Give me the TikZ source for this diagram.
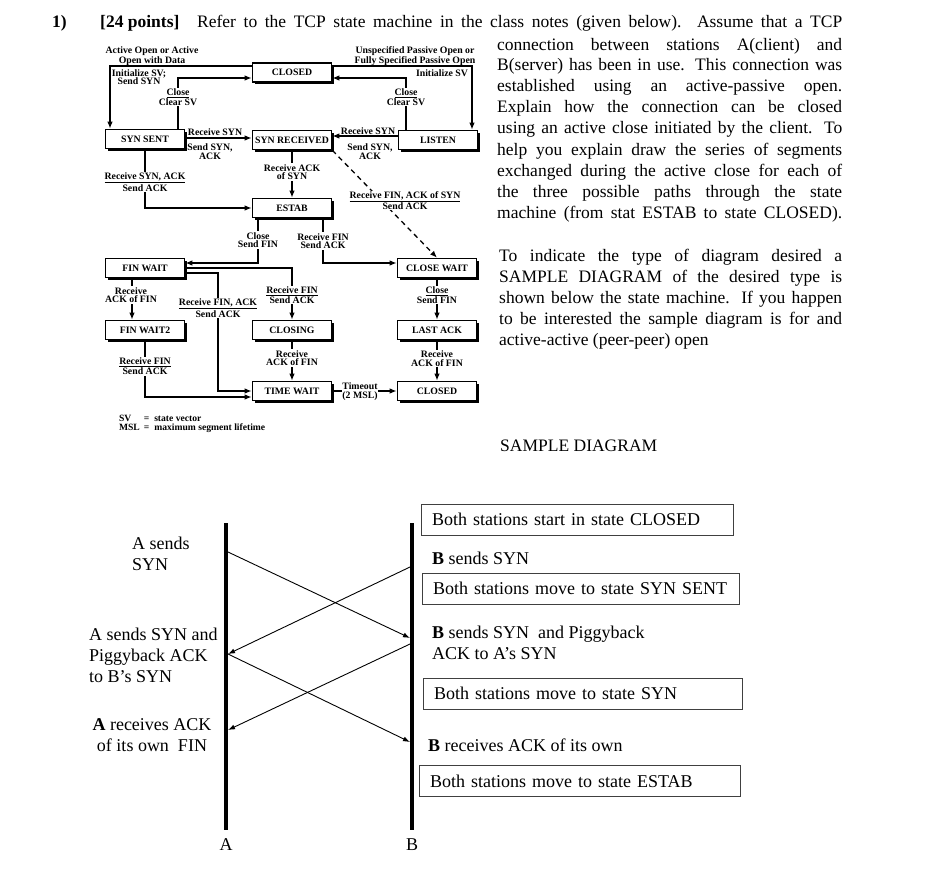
\documentclass[tikz,border=0pt]{standalone}
\usepackage{fontspec}
\setmainfont{Liberation Serif}
\usetikzlibrary{arrows.meta,shadows}
\newcommand\smf{\fontsize{9.8}{8.6}\selectfont\bfseries}
\newcommand\bigf{\fontsize{17.5}{21}\selectfont}
\newcommand\sdf{\fontsize{18}{21}\selectfont}
\begin{document}
\begin{tikzpicture}[x=1pt,y=-1pt,
  st/.style={draw, line width=1.6pt, fill=white, minimum width=79pt, minimum height=19pt, inner sep=0pt, font=\smf,
    drop shadow={shadow xshift=2.4pt, shadow yshift=-2.4pt, opacity=1, fill=black}},
  lb/.style={font=\smf, align=center, inner sep=0.8pt},
  wl/.style={lb, fill=white},
  ln/.style={line width=1.3pt},
  ar/.style={ln, -{Latex[length=7pt,width=5.5pt]}},
  para/.style={anchor=base west, inner sep=0pt, font=\bigf},
  sd/.style={inner sep=0pt, font=\sdf},
  sbox/.style={draw=black!75, line width=0.8pt, minimum height=31pt, inner xsep=11pt, inner ysep=0pt, align=left, font=\sdf},
  sar/.style={line width=0.9pt, -{Latex[length=7pt,width=5pt]}},
  life/.style={line width=4pt}
]
\useasboundingbox (0,0) rectangle (926,880);

% ---------- title and paragraph ----------
\node[para] (t1) at (52,28) {\textbf{1)}};
\node[para] (t2) at (100,28) {\textbf{[24 points]}};
\node[para] (t3) at (197,28) {\makebox[645pt][s]{Refer to the TCP state machine in the class notes (given below). Assume that a TCP}};
\node[para] (p1) at (497,50.5) {\makebox[345pt][s]{connection between stations A(client) and}};
\node[para] (p2) at (497,71) {\makebox[345pt][s]{B(server) has been in use. This connection was}};
\node[para] (p3) at (497,92) {\makebox[345pt][s]{established using an active-passive open.}};
\node[para] (p4) at (497,113) {\makebox[345pt][s]{Explain how the connection can be closed}};
\node[para] (p5) at (497,134) {\makebox[345pt][s]{using an active close initiated by the client. To}};
\node[para] (p6) at (497,155) {\makebox[345pt][s]{help you explain draw the series of segments}};
\node[para] (p7) at (497,176) {\makebox[345pt][s]{exchanged during the active close for each of}};
\node[para] (p8) at (497,197) {\makebox[345pt][s]{the three possible paths through the state}};
\node[para] (p9) at (497,218) {\makebox[345pt][s]{machine (from stat ESTAB to state CLOSED).}};
\node[para] (q1) at (499,261.5) {\makebox[343pt][s]{To indicate the type of diagram desired a}};
\node[para] (q2) at (499,282) {\makebox[343pt][s]{SAMPLE DIAGRAM of the desired type is}};
\node[para] (q3) at (499,303) {\makebox[343pt][s]{shown below the state machine. If you happen}};
\node[para] (q4) at (499,324) {\makebox[343pt][s]{to be interested the sample diagram is for and}};
\node[para] (q5) at (499,345) {active-active (peer-peer) open};
\node[para] (sdh) at (500,451) {SAMPLE DIAGRAM};

% ---------- state boxes ----------
\node[st] (CLOSEDa) at (292,72.5) {CLOSED};
\node[st] (SYNSENT) at (145,139) {SYN SENT};
\node[st] (SYNRCVD) at (292,140) {SYN RECEIVED};
\node[st] (LISTEN) at (438,140) {LISTEN};
\node[st] (ESTAB) at (292,208) {ESTAB};
\node[st] (FINWAIT) at (145,268) {FIN WAIT};
\node[st] (CLOSEWAIT) at (437,268) {CLOSE WAIT};
\node[st] (FINWAITtwo) at (145,330) {FIN WAIT2};
\node[st] (CLOSING) at (292,330) {CLOSING};
\node[st] (LASTACK) at (437,330) {LAST ACK};
\node[st] (TIMEWAIT) at (292,391) {TIME WAIT};
\node[st] (CLOSEDb) at (437,391) {CLOSED};

% ---------- connectors ----------
\draw[ar] (CLOSEDa.west |- 0,66) -| (SYNSENT.north -| 110,0);
\draw[ar] (SYNSENT.north -| 178,0) |- (CLOSEDa.west |- 0,78);
\draw[ar] (CLOSEDa.east |- 0,66) -| (LISTEN.north -| 472,0);
\draw[ar] (LISTEN.north -| 406,0) |- (CLOSEDa.east |- 0,78);
\draw[ar] (SYNSENT.east |- 0,138) -- (SYNRCVD.west |- 0,138);
\draw[ar] (LISTEN.west |- 0,136) -- (SYNRCVD.east |- 0,136);
\draw[ar] (SYNRCVD.south) -- (ESTAB.north);
\draw[ar] (SYNSENT.south) |- (ESTAB.west);
\draw[ar, dash pattern=on 5pt off 4pt] (SYNRCVD.south east) -- (CLOSEWAIT.north);
\draw[ar] (ESTAB.south -| 258,0) |- (FINWAIT.east |- 0,263);
\draw[ar] (ESTAB.south -| 323,0) |- (CLOSEWAIT.west |- 0,263);
\draw[ar] (FINWAIT.south -| 132,0) -- (FINWAITtwo.north -| 132,0);
\draw[ar] (FINWAIT.east |- 0,273) -| (TIMEWAIT.west -| 218,0) -- (TIMEWAIT.west);
\draw[ar] (FINWAIT.east |- 0,268) -| (CLOSING.north);
\draw[ar] (CLOSEWAIT.south) -- (LASTACK.north);
\draw[ar] (FINWAITtwo.south) |- (TIMEWAIT.west |- 0,397);
\draw[ar] (CLOSING.south) -- (TIMEWAIT.north);
\draw[ar] (LASTACK.south) -- (CLOSEDb.north);
\draw[ar] (TIMEWAIT.east) -- (CLOSEDb.west);

% ---------- labels ----------
\node[lb] (lao) at (152,56) {Active Open or Active\\Open with Data};
\node[lb] (lis) at (139,77) {Initialize SV;\\Send SYN};
\node[lb] (lup) at (415,56) {Unspecified Passive Open or\\Fully Specified Passive Open};
\node[lb, anchor=east] (lisv) at (469,73) {Initialize SV};
\node[wl] (lca) at (178,97) {\underline{Close}\\Clear SV};
\node[wl] (lcb) at (406,97) {\underline{Close}\\Clear SV};
\node[lb] (lrsa) at (215,133.5) {\underline{Receive SYN}};
\node[lb] (lssa) at (210,151.5) {Send SYN,\\ACK};
\node[lb] (lrsb) at (368,132.5) {\underline{Receive SYN}};
\node[lb] (lssb) at (370,151.5) {Send SYN,\\ACK};
\node[wl] (lra) at (292,172) {Receive ACK\\of SYN};
\node[wl] (lrsak) at (145,182) {\underline{Receive SYN, ACK}\\Send ACK};
\node[wl] (lrfas) at (405,200.5) {\underline{Receive FIN, ACK of SYN}\\Send ACK};
\node[wl] (lcsf) at (258,240) {Close\\Send FIN};
\node[wl] (lrfs) at (323,241) {Receive FIN\\Send ACK};
\node[wl] (lrafa) at (131,295) {Receive\\ACK of FIN};
\node[wl] (lrfsb) at (292,295) {\underline{Receive FIN}\\Send ACK};
\node[wl] (lcsfb) at (437,295) {\underline{Close}\\Send FIN};
\node[wl] (lrfak) at (218,308) {\underline{Receive FIN, ACK}\\Send ACK};
\node[wl] (lrfsc) at (145,366.5) {\underline{Receive FIN}\\Send ACK};
\node[wl] (lrafb) at (292,358) {Receive\\ACK of FIN};
\node[wl] (lrafc) at (437,358.5) {Receive\\ACK of FIN};
\node[wl] (lto) at (360,391.5) {Timeout\\(2 MSL)};
\node[lb, anchor=north west, align=left, font=\fontsize{9.6}{9.2}\selectfont\bfseries] (legend) at (118,414)
  {\makebox[25pt][l]{SV}= \ state vector\\\makebox[25pt][l]{MSL}= \ maximum segment lifetime};

% ---------- sample diagram ----------
\coordinate (At) at (226,523);
\coordinate (Ab) at (226,830);
\coordinate (Bt) at (412,523);
\coordinate (Bb) at (412,830);
\draw[life] (At) -- (Ab);
\draw[life] (Bt) -- (Bb);
\node[sd] (Alab) at (226,845) {A};
\node[sd] (Blab) at (412,845) {B};

\coordinate (a1) at (228,552);
\coordinate (b1) at (410,638);
\coordinate (b2) at (410,567);
\coordinate (a2) at (228,654);
\coordinate (b3) at (410,742);
\coordinate (b4) at (410,644);
\coordinate (a4) at (228,730);
\draw[sar] (a1) -- (b1);
\draw[sar] (b2) -- (a2);
\draw[sar] (a2) -- (b3);
\draw[sar] (b4) -- (a4);

\node[sd, anchor=west, align=left] (tA1) at (132,553.5) {A sends\\SYN};
\node[sd, anchor=west, align=left] (tA2) at (89,655) {A sends SYN and\\Piggyback ACK\\to B’s SYN};
\node[sd, align=center] (tA3) at (152,735) {\textbf{A} receives ACK\\of its own\ \ FIN};

\node[sbox, minimum width=312pt, text width=290pt] (bx1) at (577,519.5) {Both stations start in state CLOSED};
\node[sd, anchor=west] (tB1) at (432,558) {\textbf{B} sends SYN};
\node[sbox, minimum width=317pt, text width=295pt] (bx2) at (580.5,588.5) {Both stations move to state SYN SENT};
\node[sd, anchor=west, align=left] (tB2) at (432,642.5) {\textbf{B} sends SYN\ \ and Piggyback\\ACK to A’s SYN};
\node[sbox, minimum width=319pt, text width=297pt] (bx3) at (582.5,693.5) {Both stations move to state SYN};
\node[sd, anchor=west] (tB3) at (428,745) {\textbf{B} receives ACK of its own};
\node[sbox, minimum width=321pt, text width=299pt] (bx4) at (579.5,781) {Both stations move to state ESTAB};
\end{tikzpicture}
\end{document}
